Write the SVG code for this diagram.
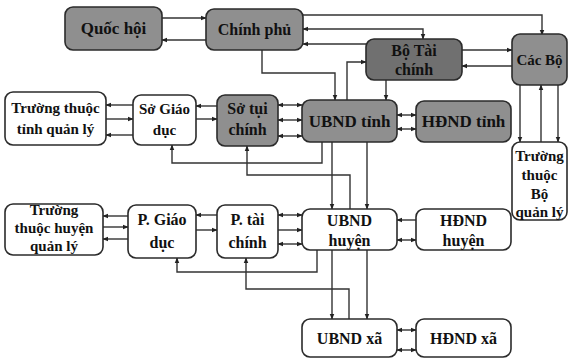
<svg xmlns="http://www.w3.org/2000/svg" width="568" height="359" viewBox="0 0 568 359">
<style>
.n rect{stroke:#2b2b2b;stroke-width:1.6;fill:#fff}
.n.g rect{fill:#8f8f8f}
.n.d rect{fill:#707070}
.n text{font-family:"Liberation Serif",serif;font-weight:bold;font-size:16px;fill:#111;text-anchor:middle}
.n text.sm{font-size:15px}
#conn path{fill:none;stroke:#333;stroke-width:1.4}
.a{marker-end:url(#ah)}
.b{marker-start:url(#as);marker-end:url(#ah)}
</style>
<defs>
<marker id="ah" viewBox="0 0 10 10" refX="9" refY="5" markerWidth="6" markerHeight="6" orient="auto" markerUnits="userSpaceOnUse"><path d="M0,1 L10,5 L0,9 z" fill="#222"/></marker>
<marker id="as" viewBox="0 0 10 10" refX="1" refY="5" markerWidth="6" markerHeight="6" orient="auto" markerUnits="userSpaceOnUse"><path d="M10,1 L0,5 L10,9 z" fill="#222"/></marker>
</defs>
<rect width="568" height="359" fill="#fff"/>
<g id="conn">
<path class="a" d="M162,18 H206"/>
<path class="a" d="M206,40 H162"/>
<path class="a" d="M303,15 H542 V35"/>
<path class="b" d="M423,39 V29 H303"/>
<path class="a" d="M366,44 H303"/>
<path class="a" d="M462,50 H512"/>
<path class="a" d="M512,66 H462"/>
<path class="a" d="M262,50 V73 H335 V100"/>
<path class="a" d="M347,100 V62 H366"/>
<path class="a" d="M386,80 V100"/>
<path class="a" d="M520,85 V142"/>
<path class="a" d="M541,142 V85"/>
<path class="a" d="M558,85 V142"/>
<path class="b" d="M397,115 H416"/>
<path class="b" d="M397,129 H416"/>
<path class="b" d="M278,105 H302"/>
<path class="b" d="M278,120 H302"/>
<path class="b" d="M278,136 H302"/>
<path class="a" d="M217,106 H196"/>
<path class="a" d="M196,119 H217"/>
<path class="a" d="M133,105 H106"/>
<path class="a" d="M106,119 H133"/>
<path class="a" d="M133,135 H106"/>
<path class="a" d="M322,142 V163 H172 V145"/>
<path class="a" d="M350,209 V175 H247 V146"/>
<path class="a" d="M332,142 V209"/>
<path class="a" d="M367,142 V209"/>
<path class="a" d="M416,220 H397"/>
<path class="b" d="M397,240 H416"/>
<path class="b" d="M278,215 H302"/>
<path class="a" d="M278,230 H302"/>
<path class="b" d="M278,244 H302"/>
<path class="a" d="M217,215 H196"/>
<path class="a" d="M196,230 H217"/>
<path class="a" d="M128,216 H103"/>
<path class="a" d="M103,227 H128"/>
<path class="a" d="M128,239 H103"/>
<path class="a" d="M317,250 V272 H177 V258"/>
<path class="a" d="M349,319 V289 H246 V258"/>
<path class="a" d="M332,250 V319"/>
<path class="a" d="M367,250 V319"/>
<path class="b" d="M397,330 H416"/>
<path class="b" d="M397,350 H416"/>
</g>
<g id="quoc-hoi" class="n g"><rect x="65" y="7" width="97" height="43" rx="8"/><text x="113.5" y="34" style="font-size:17px">Quốc hội</text></g>
<g id="chinh-phu" class="n g"><rect x="206" y="9" width="97" height="41" rx="8"/><text x="254.5" y="35">Chính phủ</text></g>
<g id="bo-tai-chinh" class="n d"><rect x="366" y="39" width="96" height="41" rx="8"/><text x="414" y="56">Bộ Tài</text><text x="414" y="75">chính</text></g>
<g id="cac-bo" class="n g"><rect x="512" y="34" width="55" height="51" rx="8"/><text class="sm" x="539.5" y="65">Các Bộ</text></g>
<g id="truong-tinh" class="n"><rect x="5" y="92" width="101" height="53" rx="8"/><text class="sm" x="55.5" y="113">Trường thuộc</text><text class="sm" x="55.5" y="134">tỉnh quản lý</text></g>
<g id="so-giao-duc" class="n"><rect x="133" y="95" width="63" height="50" rx="8"/><text class="sm" x="164.5" y="114">Sở Giáo</text><text class="sm" x="164.5" y="135">dục</text></g>
<g id="so-tai-chinh" class="n g"><rect x="217" y="95" width="61" height="51" rx="8"/><text x="247.5" y="114">Sở tụi</text><text x="247.5" y="135">chính</text></g>
<g id="ubnd-tinh" class="n g"><rect x="302" y="100" width="95" height="42" rx="8"/><text x="349.5" y="127" style="font-size:17px">UBND tỉnh</text></g>
<g id="hdnd-tinh" class="n g"><rect x="416" y="101" width="95" height="41" rx="8"/><text x="463.5" y="127" style="font-size:17px">HĐND tỉnh</text></g>
<g id="truong-bo" class="n"><rect x="512" y="142" width="55" height="78" rx="8"/><text class="sm" x="539.5" y="161">Trường</text><text class="sm" x="539.5" y="180">thuộc</text><text class="sm" x="539.5" y="199">Bộ</text><text class="sm" x="539.5" y="217">quản lý</text></g>
<g id="truong-huyen" class="n"><rect x="5" y="204" width="98" height="51" rx="8"/><text class="sm" x="54" y="215">Trường</text><text class="sm" x="54" y="233">thuộc huyện</text><text class="sm" x="54" y="251">quản lý</text></g>
<g id="p-giao-duc" class="n"><rect x="128" y="205" width="68" height="53" rx="8"/><text x="162" y="225">P. Giáo</text><text x="162" y="248">dục</text></g>
<g id="p-tai-chinh" class="n"><rect x="217" y="205" width="61" height="53" rx="8"/><text x="247.5" y="225">P. tài</text><text x="247.5" y="248">chính</text></g>
<g id="ubnd-huyen" class="n"><rect x="302" y="209" width="95" height="41" rx="8"/><text x="349.5" y="226">UBND</text><text x="349.5" y="246">huyện</text></g>
<g id="hdnd-huyen" class="n"><rect x="416" y="209" width="95" height="41" rx="8"/><text x="463.5" y="226">HĐND</text><text x="463.5" y="246">huyện</text></g>
<g id="ubnd-xa" class="n"><rect x="302" y="319" width="95" height="38" rx="8"/><text x="349.5" y="344">UBND xã</text></g>
<g id="hdnd-xa" class="n"><rect x="416" y="319" width="95" height="38" rx="8"/><text x="463.5" y="344">HĐND xã</text></g>
</svg>
